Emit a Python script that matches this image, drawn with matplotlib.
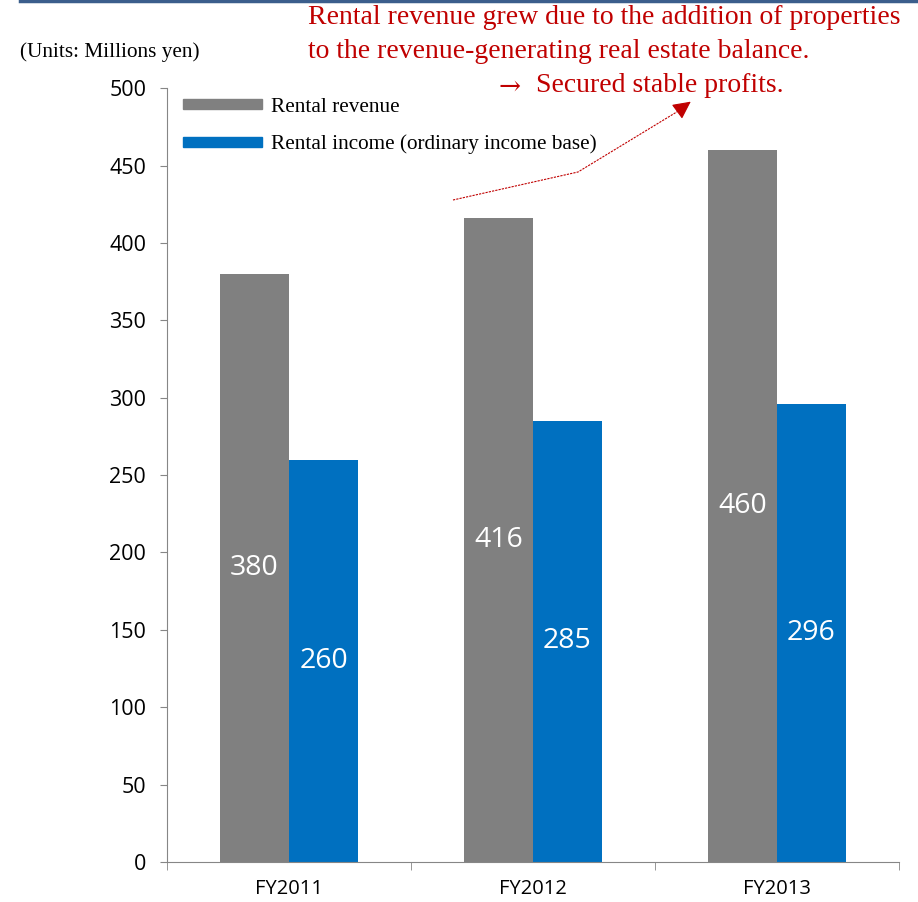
import numpy as np
import matplotlib.pyplot as plt
from matplotlib.patches import Patch
from matplotlib.lines import Line2D

# data
years = ["FY2011", "FY2012", "FY2013"]
rental_revenue = [380, 416, 460]
rental_income = [260, 285, 296]
yticks = [0, 50, 100, 150, 200, 250, 300, 350, 400, 450, 500]

gray = "#808080"
blue = "#0070C0"
red = "#C00000"
sans = ["Open Sans", "DejaVu Sans"]
serif = ["Liberation Serif", "DejaVu Serif"]

fig = plt.figure(figsize=(9.18, 9.02), dpi=100)
ax = fig.add_axes([0.182, 0.0443, 0.797, 0.858])

x = np.arange(len(years))
w = 0.283
b1 = ax.bar(x - w / 2, rental_revenue, w, color=gray)
b2 = ax.bar(x + w / 2, rental_income, w, color=blue)

for bars, vals in [(b1, rental_revenue), (b2, rental_income)]:
    for r, v in zip(bars, vals):
        ax.text(r.get_x() + r.get_width() / 2, v / 2, str(v), color="white",
                ha="center", va="center", fontsize=20.5, family=sans)

ax.set_xlim(-0.5, 2.5)
ax.set_ylim(0, 500)
ax.set_yticks(yticks)
ax.set_yticklabels([str(t) for t in yticks], family=sans, fontsize=15.5)
ax.set_xticks(x)
ax.set_xticklabels(years, family=sans, fontsize=14.5)
ax.set_xticks([-0.5, 0.5, 1.5, 2.5], minor=True)
ax.tick_params(axis="x", which="major", length=0, pad=12)
ax.tick_params(axis="x", which="minor", length=6, color="#868686")
ax.tick_params(axis="y", length=5, color="#868686", pad=10)
for s in ["top", "right"]:
    ax.spines[s].set_visible(False)
for s in ["left", "bottom"]:
    ax.spines[s].set_color("#868686")

handles = [Patch(color=gray), Patch(color=blue)]
ax.legend(handles, ["Rental revenue", "Rental income (ordinary income base)"],
          loc="upper left", bbox_to_anchor=(0.001, 1.007), frameon=False,
          prop={"family": serif, "size": 15.3}, handlelength=3.75,
          handleheight=0.38, labelspacing=0.85, handletextpad=0.4,
          borderaxespad=0.3)

# top rule
fig.add_artist(Line2D([0.022, 1.0], [0.999, 0.999], color="#3B5E8C", lw=2.5))

fig.text(0.022, 1 - 52 / 902, "(Units: Millions yen)", family=serif,
         fontsize=15.3, va="center")
fig.text(308 / 918, 1 - 18 / 902, "Rental revenue grew due to the addition of properties",
         family=serif, fontsize=20, color=red, va="center")
fig.text(308 / 918, 1 - 51 / 902, "to the revenue-generating real estate balance.",
         family=serif, fontsize=20, color=red, va="center")
fig.text(499 / 918, 1 - 86 / 902, "\u2192", family=["DejaVu Serif"],
         fontsize=19, color=red, va="center")
fig.text(536 / 918, 1 - 85 / 902, "Secured stable profits.", family=serif,
         fontsize=20, color=red, va="center")

# arrow
fig.add_artist(Line2D([453 / 918, 578 / 918, 680 / 918],
                      [1 - 200 / 902, 1 - 172 / 902, 1 - 110 / 902],
                      color=red, lw=0.8, ls=(0, (2, 1))))
ax.annotate("", xy=(693 / 918, 1 - 100 / 902), xycoords="figure fraction",
            xytext=(678 / 918, 1 - 111 / 902), textcoords="figure fraction",
            arrowprops=dict(arrowstyle="-|>,head_length=1.1,head_width=0.55",
                            color=red, lw=0.8))

fig.savefig("out.png", dpi=100)
